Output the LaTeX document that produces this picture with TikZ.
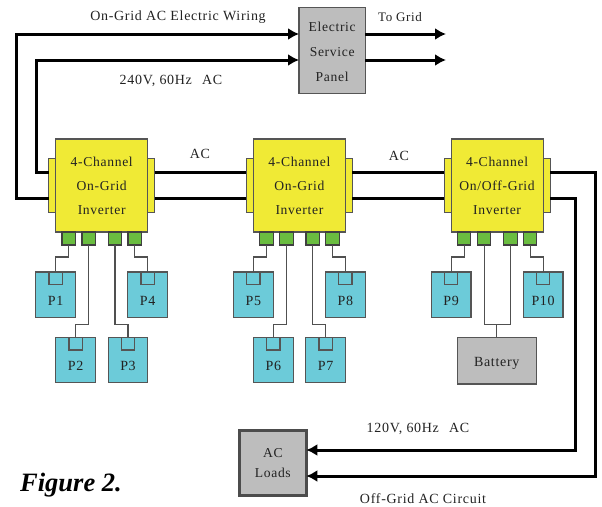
\documentclass[tikz,border=0pt]{standalone}
\usepackage{fontspec}
\setmainfont[LetterSpace=5]{Liberation Serif}
\newfontfamily\figfont[BoldItalicFont={Liberation Serif Bold Italic}]{Liberation Serif}
\usetikzlibrary{arrows.meta,positioning}
\definecolor{wireline}{HTML}{000000}
\definecolor{thinline}{HTML}{505050}
\definecolor{boxline}{HTML}{555555}
\definecolor{labeltext}{HTML}{222222}
\definecolor{invyellow}{HTML}{F0EA35}
\definecolor{changreen}{HTML}{6ABD40}
\definecolor{pvcyan}{HTML}{6CCBD9}
\definecolor{boxgray}{HTML}{BDBDBD}
\tikzset{
  inverter/.style={rectangle,draw=boxline,fill=invyellow,line width=1.2pt,minimum width=92pt,minimum height=93pt,
    align=center,inner sep=0pt,outer sep=0pt,text=labeltext,font=\fontsize{13.6}{24}\selectfont},
  sidetab/.style={rectangle,draw=boxline,fill=invyellow,line width=1.2pt,minimum width=7pt,minimum height=54pt,inner sep=0pt,outer sep=0pt},
  chan/.style={rectangle,draw=black!75,fill=changreen,line width=1.2pt,minimum width=13.5pt,minimum height=13pt,inner sep=0pt,outer sep=0pt},
  panel/.style={rectangle,draw=boxline,fill=pvcyan,line width=1.2pt,minimum width=39.7pt,minimum height=45.5pt,inner sep=0pt,outer sep=0pt},
  notch/.style={rectangle,draw=boxline,line width=1.2pt,minimum width=13.3pt,minimum height=12.6pt,inner sep=0pt,outer sep=0pt},
  graybox/.style={rectangle,draw=boxline,fill=boxgray,line width=1.2pt,inner sep=0pt,outer sep=0pt},
  wire/.style={line width=3pt,wireline},
  feed/.style={wire,-{Latex[length=11pt,width=12pt]}},
  thin wire/.style={line width=1.1pt,thinline},
  lbl/.style={text=labeltext,align=center,font=\fontsize{14}{15}\selectfont,inner sep=0pt}
}
\begin{document}
\begin{tikzpicture}[x=1pt,y=-1pt]
  \useasboundingbox (0,0) rectangle (602,506);
  % boxes
  \node[graybox,minimum width=66.3pt,minimum height=86pt,label={[lbl,yshift=-2pt,font=\fontsize{13.6}{25}\selectfont]center:Electric\\Service\\Panel}] (service) at (332.2,50.3) {};
  \node[graybox,draw=black!70,line width=2.7pt,minimum width=67pt,minimum height=65pt,label={[lbl,font=\fontsize{13.6}{20}\selectfont]center:AC\\Loads}] (loads) at (272.8,463) {};

  \node[inverter] (inva) at (101.7,185.5) {4-Channel\\On-Grid\\Inverter};
  \node[inverter,right=105.7pt of inva] (invb) {4-Channel\\On-Grid\\Inverter};
  \node[inverter,right=105.7pt of invb] (invc) {4-Channel\\On/Off-Grid\\Inverter};

  \node[sidetab,left=0pt of inva] (tla) {};
  \node[sidetab,right=0pt of inva] (tra) {};
  \node[sidetab,left=0pt of invb] (tlb) {};
  \node[sidetab,right=0pt of invb] (trb) {};
  \node[sidetab,left=0pt of invc] (tlc) {};
  \node[sidetab,right=0pt of invc] (trc) {};

  % channel blocks
  \node[chan,anchor=north] (ca1) at ([xshift=-33pt]inva.south) {};
  \node[chan,anchor=north] (ca2) at ([xshift=-13pt]inva.south) {};
  \node[chan,anchor=north] (ca3) at ([xshift=13.3pt]inva.south) {};
  \node[chan,anchor=north] (ca4) at ([xshift=33pt]inva.south) {};
  \node[chan,anchor=north] (cb1) at ([xshift=-33pt]invb.south) {};
  \node[chan,anchor=north] (cb2) at ([xshift=-13pt]invb.south) {};
  \node[chan,anchor=north] (cb3) at ([xshift=13.3pt]invb.south) {};
  \node[chan,anchor=north] (cb4) at ([xshift=33pt]invb.south) {};
  \node[chan,anchor=north] (cc1) at ([xshift=-33pt]invc.south) {};
  \node[chan,anchor=north] (cc2) at ([xshift=-13pt]invc.south) {};
  \node[chan,anchor=north] (cc3) at ([xshift=13.3pt]invc.south) {};
  \node[chan,anchor=north] (cc4) at ([xshift=33pt]invc.south) {};

  % solar panels
  \node[panel,below=27pt of ca1,xshift=-13pt,label={[lbl,yshift=-6pt]center:P1}] (p1) {};
  \node[panel,below=92.3pt of ca2,xshift=-13pt,label={[lbl,yshift=-6pt]center:P2}] (p2) {};
  \node[panel,below=92.3pt of ca3,xshift=13pt,label={[lbl,yshift=-6pt]center:P3}] (p3) {};
  \node[panel,below=27pt of ca4,xshift=13pt,label={[lbl,yshift=-6pt]center:P4}] (p4) {};
  \node[panel,below=27pt of cb1,xshift=-13pt,label={[lbl,yshift=-6pt]center:P5}] (p5) {};
  \node[panel,below=92.3pt of cb2,xshift=-13pt,label={[lbl,yshift=-6pt]center:P6}] (p6) {};
  \node[panel,below=92.3pt of cb3,xshift=13pt,label={[lbl,yshift=-6pt]center:P7}] (p7) {};
  \node[panel,below=27pt of cb4,xshift=13pt,label={[lbl,yshift=-6pt]center:P8}] (p8) {};
  \node[panel,below=27pt of cc1,xshift=-13pt,label={[lbl,yshift=-6pt]center:P9}] (p9) {};
  \node[panel,below=27pt of cc4,xshift=13pt,label={[lbl,yshift=-6pt]center:P10}] (p10) {};
  \node[graybox,minimum width=79pt,minimum height=46.7pt,anchor=north,label={[lbl,yshift=-2.5pt]center:Battery}] (battery) at (496.7,337.3) {};

  \node[notch,anchor=north] (n1) at (p1.north) {};
  \node[notch,anchor=north] (n2) at (p2.north) {};
  \node[notch,anchor=north] (n3) at (p3.north) {};
  \node[notch,anchor=north] (n4) at (p4.north) {};
  \node[notch,anchor=north] (n5) at (p5.north) {};
  \node[notch,anchor=north] (n6) at (p6.north) {};
  \node[notch,anchor=north] (n7) at (p7.north) {};
  \node[notch,anchor=north] (n8) at (p8.north) {};
  \node[notch,anchor=north] (n9) at (p9.north) {};
  \node[notch,anchor=north] (n10) at (p10.north) {};

  % panel wiring
  \draw[thin wire] (ca1.south) |- ([yshift=15pt]p1.north) -- (p1.north);
  \draw[thin wire] (ca2.south) |- ([yshift=13pt]p2.north) -- (p2.north);
  \draw[thin wire] (ca3.south) |- ([yshift=13pt]p3.north) -- (p3.north);
  \draw[thin wire] (ca4.south) |- ([yshift=15pt]p4.north) -- (p4.north);
  \draw[thin wire] (cb1.south) |- ([yshift=15pt]p5.north) -- (p5.north);
  \draw[thin wire] (cb2.south) |- ([yshift=13pt]p6.north) -- (p6.north);
  \draw[thin wire] (cb3.south) |- ([yshift=13pt]p7.north) -- (p7.north);
  \draw[thin wire] (cb4.south) |- ([yshift=15pt]p8.north) -- (p8.north);
  \draw[thin wire] (cc1.south) |- ([yshift=15pt]p9.north) -- (p9.north);
  \draw[thin wire] (cc4.south) |- ([yshift=15pt]p10.north) -- (p10.north);
  \draw[thin wire] (cc2.south) |- ([yshift=13pt]battery.north) -| (cc3.south);
  \draw[thin wire] ([yshift=13pt]battery.north) -- (battery.north);

  % AC wiring
  \coordinate (outer) at (16,34);
  \coordinate (inner) at (36,60);
  \coordinate (grida) at (446,34);
  \coordinate (gridb) at (446,60);
  \coordinate (loada) at (575.7,450);
  \coordinate (loadb) at (595,476);
  \draw[feed] ([yshift=-13pt]tla.west) -| (outer) -- ([yshift=16.3pt]service.west);
  \draw[feed] ([yshift=13pt]tla.west) -| (inner) -- ([yshift=-9.7pt]service.west);
  \draw[feed] ([yshift=16.3pt]service.east) -- (grida);
  \draw[feed] ([yshift=-9.7pt]service.east) -- (gridb);
  \draw[wire] ([yshift=13pt]tra.east) -- ([yshift=13pt]tlb.west);
  \draw[wire] ([yshift=-13pt]tra.east) -- ([yshift=-13pt]tlb.west);
  \draw[wire] ([yshift=13pt]trb.east) -- ([yshift=13pt]tlc.west);
  \draw[wire] ([yshift=-13pt]trb.east) -- ([yshift=-13pt]tlc.west);
  \draw[feed] ([yshift=13pt]trc.east) -| (loadb) -- ([yshift=-13pt]loads.east);
  \draw[feed] ([yshift=-13pt]trc.east) -| (loada) -- ([yshift=13pt]loads.east);

  % labels
  \node[lbl] (wiring) at (178,17) {On-Grid AC Electric Wiring};
  \node[lbl,font=\fontsize{13}{15}\selectfont] (togrid) at (400,17) {To Grid};
  \node[lbl] (volts) at (171,81) {240V, 60Hz\hspace{6pt} AC};
  \node[lbl] (aca) at (200,154) {AC};
  \node[lbl] (acb) at (399,156) {AC};
  \node[lbl] (loadvolts) at (418,429) {120V, 60Hz\hspace{6pt} AC};
  \node[lbl] (offgrid) at (423,499) {Off-Grid AC Circuit};
  \node[inner sep=0pt,font=\figfont\bfseries\itshape\fontsize{26.5}{28}\selectfont] (figure) at (71,485) {Figure 2.};
\end{tikzpicture}
\end{document}
